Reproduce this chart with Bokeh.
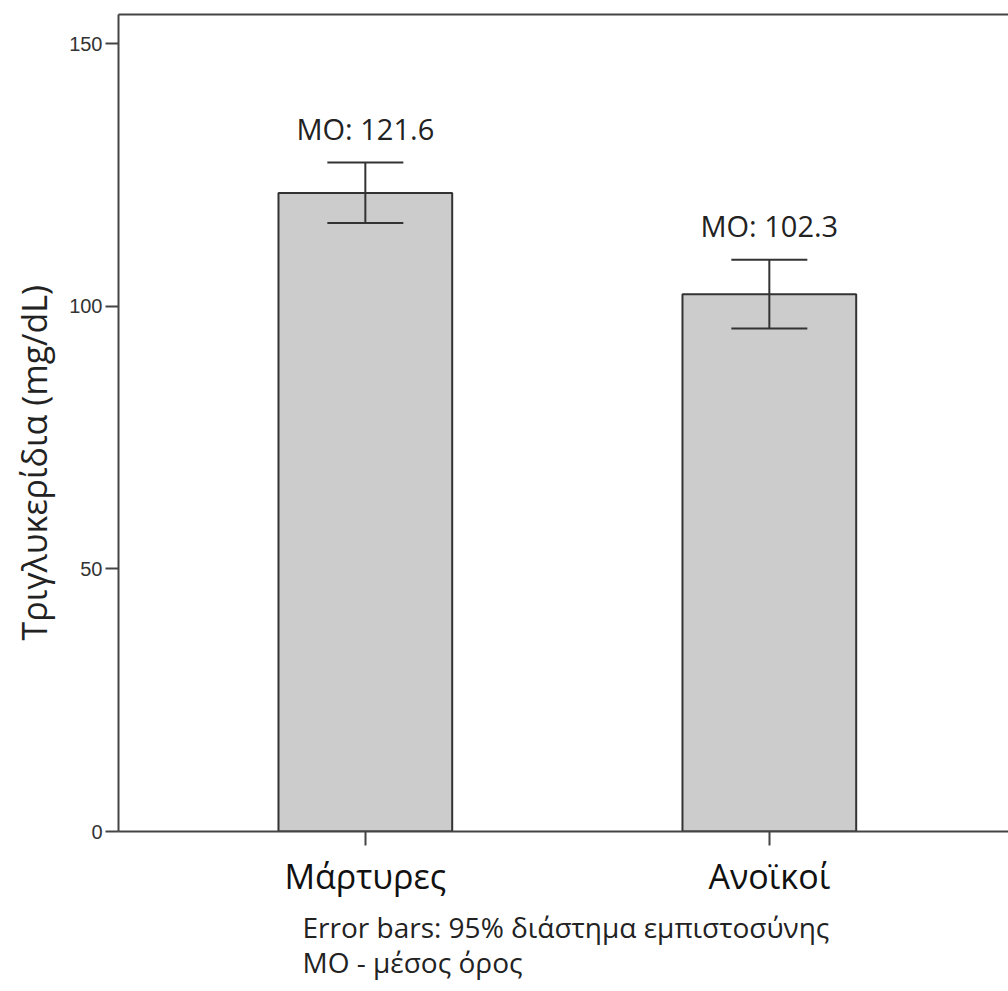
from bokeh.plotting import figure
from bokeh.models import (ColumnDataSource, Whisker, TeeHead, FixedTicker, LinearAxis,
                          Title, Range1d)
from bokeh.core.properties import value
from bokeh.embed import file_html
from bokeh.resources import INLINE

categories = ["Μάρτυρες", "Ανοϊκοί"]
means = [121.6, 102.3]
ci_upper = [127.4, 108.9]
ci_lower = [115.9, 95.8]
mean_labels = ["MO: 121.6", "MO: 102.3"]
y_ticks = [0, 50, 100, 150]
y_label = "Τριγλυκερίδια  (mg/dL)"
footer_lines = ["Error bars: 95% διάστημα εμπιστοσύνης", "ΜΟ - μέσος όρος"]

xs = [i + 1 for i in range(len(categories))]
src = ColumnDataSource(dict(x=xs, mean=means, upper=ci_upper, lower=ci_lower,
                            label=mean_labels))

p = figure(width=1008, height=991, output_backend="svg", toolbar_location=None,
           x_range=Range1d(0.389, 2.592), y_range=Range1d(0, 155.6),
           min_border_left=118, min_border_right=0, min_border_top=14,
           min_border_bottom=160)
p.outline_line_color = None
p.xgrid.visible = False
p.ygrid.visible = False
p.background_fill_color = "white"
p.border_fill_color = "white"

p.vbar(x="x", top="mean", bottom=0, width=0.43, source=src,
       fill_color="#cccccc", line_color="#333333", line_width=2)

w = Whisker(source=src, base="x", upper="upper", lower="lower", dimension="height",
            line_color="#333333", line_width=2, level="annotation",
            upper_head=TeeHead(size=76, line_color="#333333", line_width=2),
            lower_head=TeeHead(size=76, line_color="#333333", line_width=2))
p.add_layout(w)

p.text(x="x", y="upper", text="label", source=src, text_align="center",
       text_baseline="middle", y_offset=-34, text_font=value("Open Sans"),
       text_font_size="29px", text_color="#222222")

# axes
xa = p.xaxis[0]
xa.ticker = FixedTicker(ticks=xs)
xa.major_label_overrides = {x: c for x, c in zip(xs, categories)}
xa.major_label_text_font = "Open Sans"
xa.major_label_text_font_size = "34px"
xa.major_label_text_color = "#111111"
xa.major_label_standoff = 7
xa.major_tick_out = 14
xa.major_tick_in = 0
xa.minor_tick_line_color = None
xa.axis_line_width = 2
xa.axis_line_color = "#444444"
xa.major_tick_line_width = 2
xa.major_tick_line_color = "#444444"

ya = p.yaxis[0]
ya.ticker = FixedTicker(ticks=y_ticks)
ya.major_label_text_font = "Liberation Sans"
ya.major_label_text_font_size = "20px"
ya.major_label_text_color = "#333333"
ya.major_label_standoff = 3
ya.major_tick_out = 13
ya.major_tick_in = 0
ya.minor_tick_line_color = None
ya.axis_line_width = 2
ya.axis_line_color = "#444444"
ya.major_tick_line_width = 2
ya.major_tick_line_color = "#444444"

top = LinearAxis(ticker=FixedTicker(ticks=[]), major_tick_out=0, major_tick_in=0,
                 major_label_text_font_size="0px", major_label_standoff=0,
                 axis_line_width=2, axis_line_color="#444444",
                 minor_tick_line_color=None)
p.add_layout(top, "above")

yt = Title(text=y_label, align="left", offset=191, text_font="Open Sans",
           text_font_size="34px", text_font_style="normal", text_color="#222222",
           standoff=16, vertical_align="top")
p.add_layout(yt, "left")

ft = Title(text="\n".join(footer_lines), align="left", offset=184,
           text_font="Open Sans", text_font_size="28px", text_font_style="normal",
           text_color="#222222", text_line_height=0.92, standoff=9,
           vertical_align="bottom")
p.add_layout(ft, "below")

open("out.html", "w").write(file_html(p, INLINE))
